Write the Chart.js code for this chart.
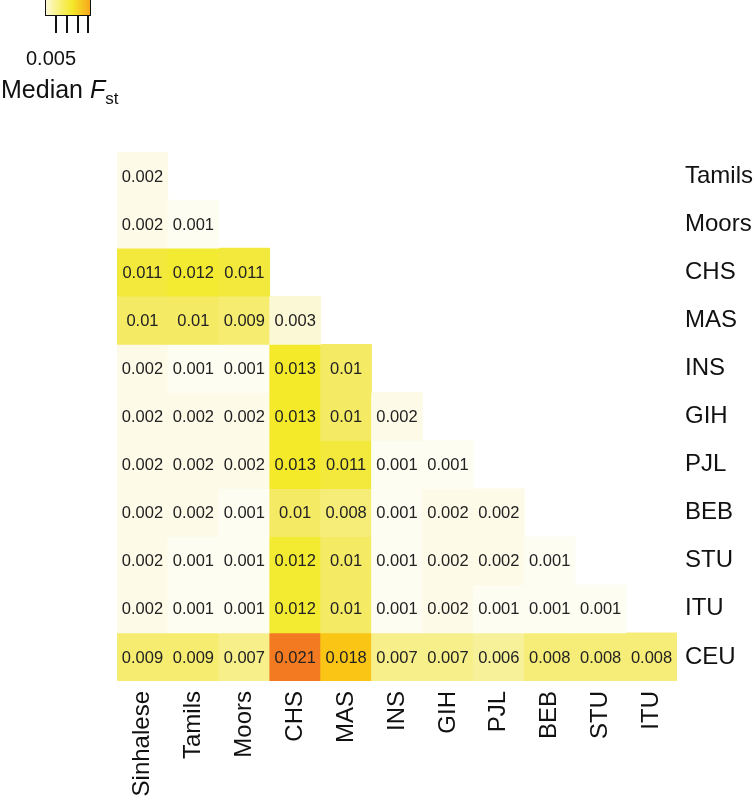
<!DOCTYPE html>
<html>
<head>
<meta charset="utf-8">
<script src="https://cdn.jsdelivr.net/npm/chart.js"></script>
<style>
  body { margin: 0; background: #fff; font-family: "Liberation Sans", Arial, sans-serif; }
  #wrap { position: relative; width: 755px; height: 800px; }
  #fst { position: absolute; left: 0; top: 0; }
  .cbar { position: absolute; left: 45px; top: -2px; width: 44px; height: 16px; border: 1.5px solid #111;
          background: linear-gradient(to right, #fdf9d6, #f8ef6a 35%, #f4e829 60%, #f7a81c); }
  .tick { position: absolute; top: 15px; width: 1.5px; height: 18px; background: #111; }
  .lbl { position: absolute; color: #111; white-space: nowrap; }
</style>
</head>
<body>
<div id="wrap">
  <canvas id="fstChart" width="755" height="800"></canvas>
  <div id="fst">
    <div class="cbar"></div>
    <div class="tick" style="left:55px"></div>
    <div class="tick" style="left:66px"></div>
    <div class="tick" style="left:77px"></div>
    <div class="tick" style="left:87px"></div>
    <div class="lbl" style="left:26px;top:47px;font-size:20px;">0.005</div>
    <div class="lbl" style="left:1px;top:75px;font-size:25px;">Median <i>F</i><sub style="font-size:17px;">st</sub></div>
  </div>
</div>
<script>
// populations along the bottom and down the right side
var colLabels = ['Sinhalese', 'Tamils', 'Moors', 'CHS', 'MAS', 'INS', 'GIH', 'PJL', 'BEB', 'STU', 'ITU'];
var rowLabels = ['Tamils', 'Moors', 'CHS', 'MAS', 'INS', 'GIH', 'PJL', 'BEB', 'STU', 'ITU', 'CEU'];

// median Fst, one array per row (lower triangle)
var tamils = [0.002];
var moors  = [0.002, 0.001];
var chs    = [0.011, 0.012, 0.011];
var mas    = [0.01, 0.01, 0.009, 0.003];
var ins    = [0.002, 0.001, 0.001, 0.013, 0.01];
var gih    = [0.002, 0.002, 0.002, 0.013, 0.01, 0.002];
var pjl    = [0.002, 0.002, 0.002, 0.013, 0.011, 0.001, 0.001];
var beb    = [0.002, 0.002, 0.001, 0.01, 0.008, 0.001, 0.002, 0.002];
var stu    = [0.002, 0.001, 0.001, 0.012, 0.01, 0.001, 0.002, 0.002, 0.001];
var itu    = [0.002, 0.001, 0.001, 0.012, 0.01, 0.001, 0.002, 0.001, 0.001, 0.001];
var ceu    = [0.009, 0.009, 0.007, 0.021, 0.018, 0.007, 0.007, 0.006, 0.008, 0.008, 0.008];

var rowValues = [tamils, moors, chs, mas, ins, gih, pjl, beb, stu, itu, ceu];

// colour ramp (value -> rgb)
var rampStops = [
  [0.000, [255, 255, 250]],
  [0.001, [254, 253, 242]],
  [0.002, [253, 251, 232]],
  [0.003, [251, 248, 214]],
  [0.006, [247, 241, 153]],
  [0.007, [246, 239, 138]],
  [0.008, [245, 237, 120]],
  [0.009, [245, 236, 112]],
  [0.010, [244, 234, 100]],
  [0.011, [242, 233, 60]],
  [0.012, [243, 234, 50]],
  [0.013, [244, 234, 42]],
  [0.018, [251, 197, 21]],
  [0.021, [244, 122, 34]]
];

function rampColor(v) {
  for (var i = 1; i < rampStops.length; i++) {
    if (v <= rampStops[i][0]) {
      var a = rampStops[i - 1], b = rampStops[i];
      var t = (v - a[0]) / (b[0] - a[0]);
      var c = a[1].map(function(x, k) { return Math.round(x + (b[1][k] - x) * t); });
      return 'rgb(' + c.join(',') + ')';
    }
  }
  var last = rampStops[rampStops.length - 1][1];
  return 'rgb(' + last.join(',') + ')';
}

// one floating-bar dataset per row, drawn on top of each other
var datasets = rowValues.map(function(vals, r) {
  return {
    label: rowLabels[r],
    data: colLabels.map(function(c, i) { return i < vals.length ? [r, r + 1] : null; }),
    fst: vals,
    backgroundColor: colLabels.map(function(c, i) { return i < vals.length ? rampColor(vals[i]) : 'rgba(0,0,0,0)'; }),
    borderWidth: 0,
    grouped: false,
    barPercentage: 1,
    categoryPercentage: 1
  };
});

// writes the value in every cell
var cellText = {
  id: 'cellText',
  afterDatasetsDraw: function(chart) {
    var ctx = chart.ctx;
    ctx.save();
    ctx.font = '16.5px "Liberation Sans", Arial, sans-serif';
    ctx.fillStyle = '#222';
    ctx.textAlign = 'center';
    ctx.textBaseline = 'middle';
    chart.data.datasets.forEach(function(ds, d) {
      var meta = chart.getDatasetMeta(d);
      meta.data.forEach(function(bar, i) {
        if (i >= ds.fst.length) return;
        var yMid = (bar.y + bar.base) / 2;
        ctx.fillText(String(ds.fst[i]), bar.x, yMid + 1);
      });
    });
    ctx.restore();
  }
};

var ctx = document.getElementById('fstChart');
new Chart(ctx, {
  type: 'bar',
  data: { labels: colLabels, datasets: datasets },
  plugins: [cellText],
  options: {
    responsive: false,
    animation: false,
    layout: { padding: { left: 117, top: 152, right: 0, bottom: 0 } },
    plugins: { legend: { display: false }, tooltip: { enabled: false } },
    scales: {
      x: {
        type: 'category',
        grid: { display: false },
        border: { display: false },
        afterFit: function(scale) { scale.height = 119; },
        ticks: {
          color: '#111',
          font: { size: 24, family: '"Liberation Sans", Arial, sans-serif' },
          minRotation: 90,
          maxRotation: 90,
          padding: 2,
          autoSkip: false
        }
      },
      y: {
        type: 'linear',
        position: 'right',
        reverse: true,
        min: 0,
        max: rowLabels.length,
        grid: { display: false },
        border: { display: false },
        afterFit: function(scale) { scale.width = 78; },
        afterBuildTicks: function(scale) {
          scale.ticks = rowLabels.map(function(l, i) { return { value: i + 0.5 }; });
        },
        ticks: {
          color: '#111',
          padding: 0,
          font: { size: 24, family: '"Liberation Sans", Arial, sans-serif' },
          callback: function(v, i) { return rowLabels[i]; }
        }
      }
    }
  }
});
</script>
</body>
</html>
